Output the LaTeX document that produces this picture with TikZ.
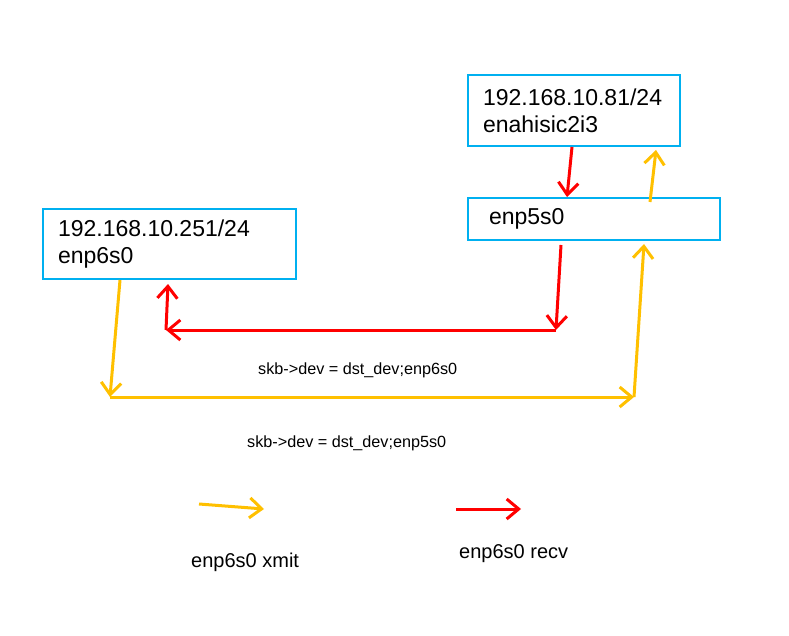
\documentclass[tikz,border=0pt]{standalone}
\usepackage{fontspec}
\setmainfont{Liberation Sans}
\usetikzlibrary{arrows.meta}
\definecolor{boxblue}{RGB}{0,176,240}
\definecolor{xmitcol}{RGB}{255,192,0}
\definecolor{recvcol}{RGB}{255,0,0}
\tikzset{
  ifbox/.style={draw=boxblue, line width=2pt, anchor=north west, align=left,
    inner xsep=15pt, inner ysep=0pt, font=\fontsize{23}{27}\selectfont},
  xmit/.style={draw=xmitcol, line width=3pt, -{Straight Barb[length=12pt,width=20pt]}},
  recv/.style={draw=recvcol, line width=3pt, -{Straight Barb[length=12pt,width=20pt]}},
  note/.style={anchor=west, inner sep=0pt, font=\fontsize{16.2}{19}\selectfont},
  legend/.style={anchor=west, inner sep=0pt, font=\fontsize{20}{24}\selectfont}
}
\begin{document}
\begin{tikzpicture}[x=1pt, y=-1pt]
                \useasboundingbox (0,0) rectangle (789,636);
                \node[ifbox, text width=182pt, minimum height=71pt] (hostA) at (467,74) {192.168.10.81/24\\enahisic2i3};
                \node[ifbox, inner xsep=21pt, text width=210pt, minimum height=42pt] (link) at (467,197) {enp5s0};
                \node[ifbox, text width=223pt, minimum height=70pt] (host6) at (42,208) {192.168.10.251/24\\enp6s0};
                
                \coordinate (rA) at (556,330);
                \coordinate (rB) at (166,330);
                \coordinate (yA) at (110,397);
                \coordinate (yB) at (634,397);
                
                % enp5s0 <-> enahisic2i3
                \draw[recv] ([xshift=105pt]hostA.south west) -- ([xshift=100pt]link.north west);
                \draw[xmit] ([xshift=183pt,yshift=-5pt]link.north west) -- ([xshift=189pt,yshift=-3pt]hostA.south west);
                
                % recv path
                \draw[recv] ([xshift=94pt,yshift=-4pt]link.south west) -- (rA);
                \draw[recv] (rA) -- (rB);
                \draw[recv] (rB) -- ([xshift=126pt,yshift=-4pt]host6.south west);
                
                % xmit path
                \draw[xmit] ([xshift=78pt]host6.south west) -- (yA);
                \draw[xmit] (yA) -- (yB);
                \draw[xmit] (yB) -- ([xshift=177pt,yshift=-3pt]link.south west);
                
                \node[note] (n6) at (258,370) {skb->dev = dst\_dev;enp6s0};
                \node[note] (n5) at (247,443) {skb->dev = dst\_dev;enp5s0};
                
                % legend
                \coordinate (lx1) at (199,504);
                \coordinate (lx2) at (264,509);
                \coordinate (lr1) at (456,509);
                \coordinate (lr2) at (521,509);
                \draw[xmit] (lx1) -- (lx2);
                \draw[recv] (lr1) -- (lr2);
                \node[legend] (lxmit) at (191,562) {enp6s0 xmit};
                \node[legend] (lrecv) at (459,554) {enp6s0 recv};
            \end{tikzpicture}
\end{document}
